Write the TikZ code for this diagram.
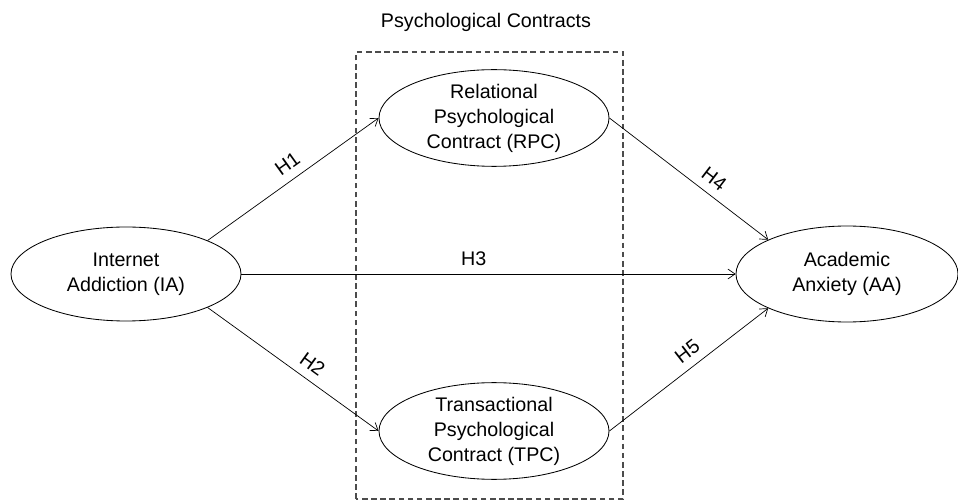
\documentclass[tikz,border=0pt]{standalone}
\usepackage{fontspec}
\setmainfont{Liberation Sans}
\usetikzlibrary{shapes.geometric,arrows.meta}
\begin{document}
\begin{tikzpicture}[>={Straight Barb[length=5pt,width=7pt]}, line width=.5pt,
    var/.style={ellipse, draw, line width=.6pt, inner sep=0pt, minimum width=5.75cm, minimum height=2.35cm, align=center, font=\fontsize{14}{17.8}\selectfont},
    hyp/.style={font=\fontsize{14}{17}\selectfont, sloped, above, inner sep=6pt}]
    
    \useasboundingbox (0,0) rectangle (23.95,12.55);
    
    % frame of the mediators
    \node[font=\fontsize{14}{17}\selectfont] (title) at (12.15,12.0) {Psychological Contracts};
    \draw[dash pattern=on 4pt off 2.5pt, line width=.9pt, black!70] (8.9,0.075) rectangle (15.575,11.25);
    
    \node[var] (ia) at (3.15,5.7) {Internet\\Addiction (IA)};
    \node[var] (rpc) at (12.35,9.6) {Relational\\Psychological\\Contract (RPC)};
    \node[var] (tpc) at (12.35,1.775) {Transactional\\Psychological\\Contract (TPC)};
    \node[var, minimum width=5.55cm, minimum height=2.4cm] (aa) at (21.175,5.7) {Academic\\Anxiety (AA)};
    
    \draw[->] (ia.north east) -- (rpc.west) node[hyp, pos=.52]{H1};
    \draw[->] (ia.south east) -- (tpc.west) node[hyp, pos=.56]{H2};
    \draw[->] (ia.east) -- (aa.west) node[hyp, pos=.47]{H3};
    \draw[->] (rpc.east) -- (aa.north west) node[hyp, pos=.6]{H4};
    \draw[->] (tpc.east) -- (aa.south west) node[hyp, pos=.55]{H5};
    
\end{tikzpicture}
\end{document}
